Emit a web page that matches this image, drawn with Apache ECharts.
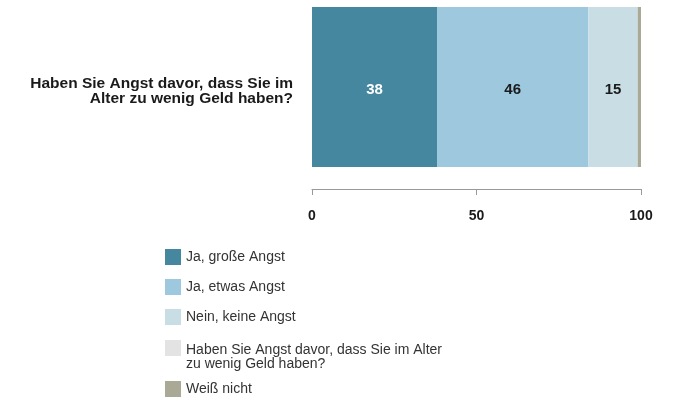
<!DOCTYPE html>
<html>
<head>
<meta charset="utf-8">
<script src="https://cdn.jsdelivr.net/npm/echarts@6/dist/echarts.min.js"></script>
<style>
  html, body { margin: 0; padding: 0; background: #fff; }
  #chart { width: 674px; height: 402px; }
</style>
</head>
<body>
<div id="chart"></div>
<script>
  // Frage (Kategorie der y-Achse)
  const categories = ['Haben Sie Angst davor, dass Sie im\nAlter zu wenig Geld haben?'];

  // Antwortkategorien und Werte in Prozent
  const seriesNames = [
    'Ja, große Angst',
    'Ja, etwas Angst',
    'Nein, keine Angst',
    'Haben Sie Angst davor, dass Sie im Alter\nzu wenig Geld haben?',
    'Weiß nicht'
  ];
  const seriesValues = [[38], [46], [15], [0], [1]];
  const xTicks = [0, 50, 100];

  const colors = ['#44879e', '#9ec8dd', '#c9dde5', '#e3e3e3', '#a9a996'];
  const labelColors = ['#ffffff', '#1a1a1a', '#1a1a1a', '#1a1a1a', '#1a1a1a'];
  const fontFamily = 'Liberation Sans, Arial, sans-serif';

  // mehrzeiligen Text mit kleiner Leerzeile davor als Rich-Text aufbauen
  function shiftedLines(text) {
    return '{s| }\n' + text.split('\n').map(s => '{a|' + s + '}').join('\n');
  }

  let myChart = echarts.init(document.getElementById('chart'));

  // gemeinsame Legenden-Einstellungen
  const legendBase = {
    orient: 'vertical',
    left: 165,
    padding: 0,
    itemWidth: 16,
    itemHeight: 16,
    itemGap: 14,
    icon: 'rect',
    textStyle: { fontSize: 14, color: '#333' }
  };

  let option = {
    backgroundColor: '#fff',
    color: colors,
    textStyle: { fontFamily: fontFamily },
    animation: false,
    grid: { left: 312, right: 33, top: 7, height: 160 },
    // drei Legenden, damit der zweizeilige Eintrag wie im Original sitzt
    legend: [
      Object.assign({}, legendBase, { top: 249, data: seriesNames.slice(0, 3) }),
      Object.assign({}, legendBase, {
        top: 333,
        data: [seriesNames[3]],
        formatter: shiftedLines,
        textStyle: {
          fontSize: 14, color: '#333',
          rich: {
            s: { fontSize: 2, lineHeight: 18, fontFamily: fontFamily },
            a: { fontSize: 14, lineHeight: 14, color: '#333', fontFamily: fontFamily }
          }
        }
      }),
      Object.assign({}, legendBase, { top: 381, data: seriesNames.slice(4) })
    ],
    xAxis: {
      type: 'value',
      min: xTicks[0],
      max: xTicks[xTicks.length - 1],
      interval: 50,
      position: 'bottom',
      offset: 22,
      axisLine: { show: true, lineStyle: { color: '#999' } },
      axisTick: { show: true, length: 6, lineStyle: { color: '#999' } },
      splitLine: { show: false },
      axisLabel: { fontSize: 14, fontWeight: 'bold', color: '#1a1a1a', margin: 20 }
    },
    yAxis: {
      type: 'category',
      data: categories,
      axisLine: { show: false },
      axisTick: { show: false },
      axisLabel: {
        fontSize: 15.5, fontWeight: 'bold', color: '#1a1a1a',
        align: 'right', margin: 19,
        formatter: shiftedLines,
        rich: {
          s: { fontSize: 2, lineHeight: 8, fontFamily: fontFamily },
          a: {
            fontSize: 15.5, fontWeight: 'bold', lineHeight: 15,
            color: '#1a1a1a', align: 'right', fontFamily: fontFamily
          }
        }
      }
    },
    series: seriesNames.map((name, i) => ({
      name: name,
      type: 'bar',
      stack: 'total',
      barWidth: 160,
      data: seriesValues[i],
      label: {
        show: seriesValues[i][0] >= 5,
        position: 'inside',
        offset: [0, 3],
        fontSize: 15,
        fontWeight: 'bold',
        color: labelColors[i]
      }
    }))
  };

  myChart.setOption(option);
  window.addEventListener('resize', function () { myChart.resize() });
</script>
</body>
</html>
